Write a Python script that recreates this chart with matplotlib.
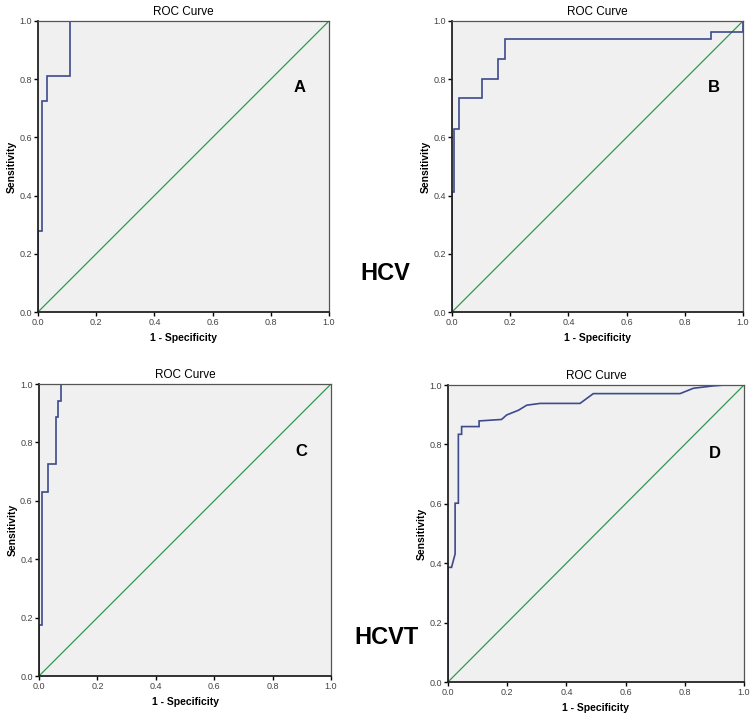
import matplotlib.pyplot as plt
import numpy as np

plt.rcParams['font.family'] = ['Liberation Sans', 'DejaVu Sans']

# ROC curve points (1 - specificity, sensitivity)
fpr_a = [0, 0, 0.013, 0.013, 0.032, 0.032, 0.11, 0.11, 1.0]
tpr_a = [0, 0.28, 0.28, 0.725, 0.725, 0.81, 0.81, 1.0, 1.0]

fpr_b = [0, 0, 0.007, 0.007, 0.024, 0.024, 0.102, 0.102, 0.159, 0.159, 0.183, 0.183, 0.889, 0.889, 1.0, 1.0]
tpr_b = [0, 0.413, 0.413, 0.629, 0.629, 0.736, 0.736, 0.80, 0.80, 0.869, 0.869, 0.937, 0.937, 0.961, 0.961, 1.0]

fpr_c = [0, 0, 0.009, 0.009, 0.032, 0.032, 0.057, 0.057, 0.066, 0.066, 0.074, 0.074, 1.0]
tpr_c = [0, 0.175, 0.175, 0.631, 0.631, 0.725, 0.725, 0.886, 0.886, 0.943, 0.943, 1.0, 1.0]

fpr_d = [0, 0, 0.012, 0.024, 0.024, 0.035, 0.035, 0.046, 0.046, 0.105, 0.105, 0.181,
         0.198, 0.238, 0.266, 0.311, 0.446, 0.491, 0.784, 0.829, 0.896, 0.936, 1.0]
tpr_d = [0, 0.386, 0.386, 0.431, 0.602, 0.602, 0.834, 0.834, 0.860, 0.860, 0.879, 0.884,
         0.899, 0.915, 0.932, 0.938, 0.938, 0.971, 0.971, 0.989, 0.997, 1.0, 1.0]

panels = ['A', 'B', 'C', 'D']
curves = [(fpr_a, tpr_a), (fpr_b, tpr_b), (fpr_c, tpr_c), (fpr_d, tpr_d)]
groups = ['HCV', 'HCVT']

W, H = 753, 721
# axes boxes in pixels: left, top, right, bottom
boxes = [(38, 21, 329, 312), (452, 21, 743, 312), (39, 384, 331, 676), (448, 385, 744, 682)]

fig = plt.figure(figsize=(W / 100, H / 100), dpi=100)
fig.patch.set_facecolor('white')

ticks = [0.0, 0.2, 0.4, 0.6, 0.8, 1.0]
for (l, t, r, b), name, (fx, ty) in zip(boxes, panels, curves):
    ax = fig.add_axes([l / W, 1 - b / H, (r - l) / W, (b - t) / H])
    ax.set_facecolor('#f0f0f0')
    ax.plot([0, 1], [0, 1], color='#2e9a4e', lw=0.9)
    ax.plot(fx, ty, color='#3d4a8c', lw=1.2, solid_joinstyle='miter')
    ax.set_xlim(0, 1)
    ax.set_ylim(0, 1)
    ax.set_xticks(ticks)
    ax.set_yticks(ticks)
    ax.set_xticklabels(['%.1f' % v for v in ticks])
    ax.set_yticklabels(['%.1f' % v for v in ticks])
    ax.tick_params(direction='out', length=3, width=1, labelsize=6.5, labelcolor='#444444', pad=1.5)
    for s in ['left', 'bottom']:
        ax.spines[s].set_color('#222222')
        ax.spines[s].set_linewidth(1.3)
    for s in ['top', 'right']:
        ax.spines[s].set_color('#555555')
        ax.spines[s].set_linewidth(0.9)
    ax.set_title('ROC Curve', fontsize=8.5, pad=4)
    ax.set_xlabel('1 - Specificity', fontsize=7.5, fontweight='bold', labelpad=4)
    ax.set_ylabel('Sensitivity', fontsize=7.5, fontweight='bold', labelpad=2)
    ax.text(0.90, 0.77, name, transform=ax.transAxes, fontsize=12, fontweight='bold',
            ha='center', va='center')

fig.text(385 / W, 1 - 273 / H, groups[0], fontsize=17, fontweight='bold', ha='center', va='center')
fig.text(387 / W, 1 - 638 / H, groups[1], fontsize=17, fontweight='bold', ha='center', va='center')

fig.savefig('out.png', dpi=100, facecolor='white')
